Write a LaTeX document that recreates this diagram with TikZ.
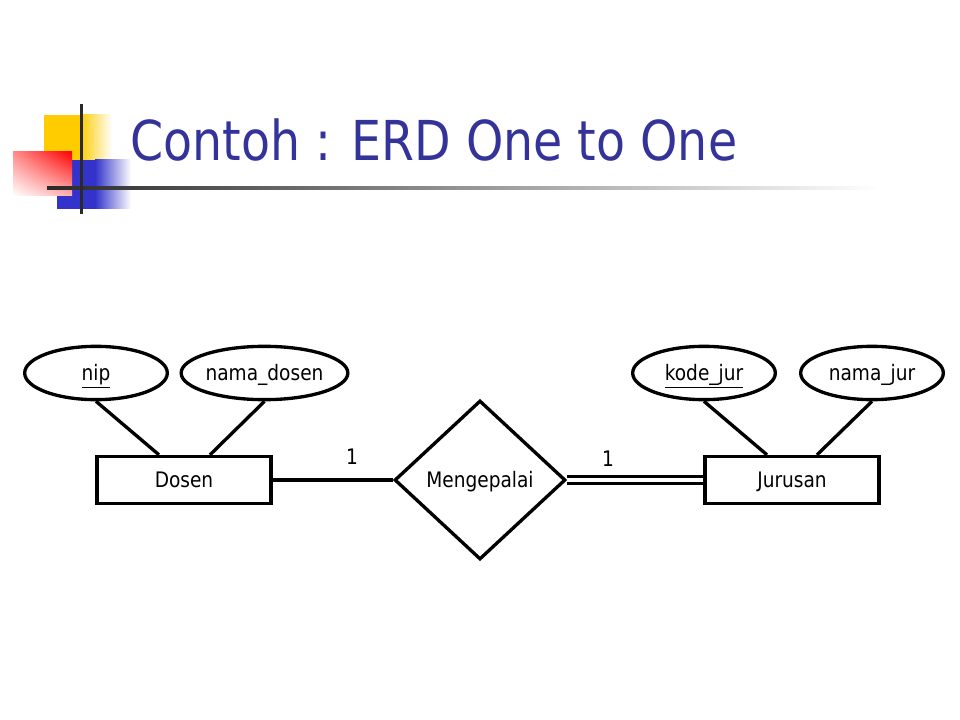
\documentclass[tikz,border=0pt]{standalone}
\usepackage{fontspec}
\usetikzlibrary{shapes.geometric,calc,shadings}
\newfontfamily\titlefont[FakeStretch=0.863]{DejaVu Sans}
\newfontfamily\lblfont[FakeStretch=0.87]{DejaVu Sans}
\definecolor{titleblue}{HTML}{333399}
\definecolor{decoyellow}{HTML}{FFCC00}
\definecolor{decoblue}{HTML}{3333CC}
\definecolor{decored}{HTML}{FF0000}
\definecolor{linedark}{HTML}{2A2A2A}
\begin{document}
\begin{tikzpicture}[x=0.75pt,y=-0.75pt,
  er/.style={draw=black,line width=2.5pt,inner sep=0pt,
    font=\lblfont\fontsize{16pt}{19pt}\selectfont,text height=11.7pt,text depth=0pt},
  attr/.style={er,ellipse,minimum width=107pt,minimum height=40pt},
  entity/.style={er,rectangle,minimum width=130.5pt,minimum height=35.25pt},
  rel/.style={er,diamond,minimum width=128.25pt,minimum height=119.25pt},
  link/.style={line width=2.5pt,draw=black},
  dlink/.style={draw=black,line width=2.25pt,double=white,double distance=3pt},
  card/.style={inner sep=0pt,font=\lblfont\fontsize{16pt}{19pt}\selectfont,text height=11.7pt,text depth=0pt}]
\useasboundingbox (0,0) rectangle (960,720);
\fill[white] (0,0) rectangle (960,720);
% decoration
\fill[decoyellow] (44,115) rectangle (80,160);
\shade[left color=decoyellow,right color=white] (80,115) rectangle (112,160);
\fill[decoblue] (57,160) rectangle (95,209);
\shade[left color=decoblue,right color=white] (95,160) rectangle (131,209);
\shade[upper left=decored!45,upper right=decored,lower left=white,lower right=decored!30] (13,152) rectangle (72,196);
\shade[left color=linedark,middle color=black!60,right color=white] (47,187) rectangle (880,190);
\fill[linedark] (80,104) rectangle (83,214);
% title
\node[anchor=base west,inner sep=0pt,text=titleblue,font=\titlefont\fontsize{41.25pt}{48pt}\selectfont] (title) at (130,161) {Contoh : ERD One to One};
% ER diagram
\node[attr] (nip) at (96,373) {\underline{nip}};
\node[attr] (namadosen) at (264.5,373) {nama\_dosen};
\node[attr] (kodejur) at (704,373) {\underline{kode\_jur}};
\node[attr] (namajur) at (872,373) {nama\_jur};
\node[entity] (dosen) at (184,480) {Dosen};
\node[entity] (jurusan) at (792,480) {Jurusan};
\node[rel] (rel) at (480,480) {Mengepalai};
\node[card] (c1) at (352,457) {1};
\node[card] (c2) at (608,459) {1};
\draw[link] (nip.south) -- ($(dosen.north)+(-25,0)$);
\draw[link] (namadosen.south) -- ($(dosen.north)+(26,0)$);
\draw[link] (kodejur.south) -- ($(jurusan.north)+(-25,0)$);
\draw[link] (namajur.south) -- ($(jurusan.north)+(25,0)$);
\draw[link] (dosen.east) -- (rel.west);
\draw[dlink] (rel.east) -- (jurusan.west);
\end{tikzpicture}
\end{document}
